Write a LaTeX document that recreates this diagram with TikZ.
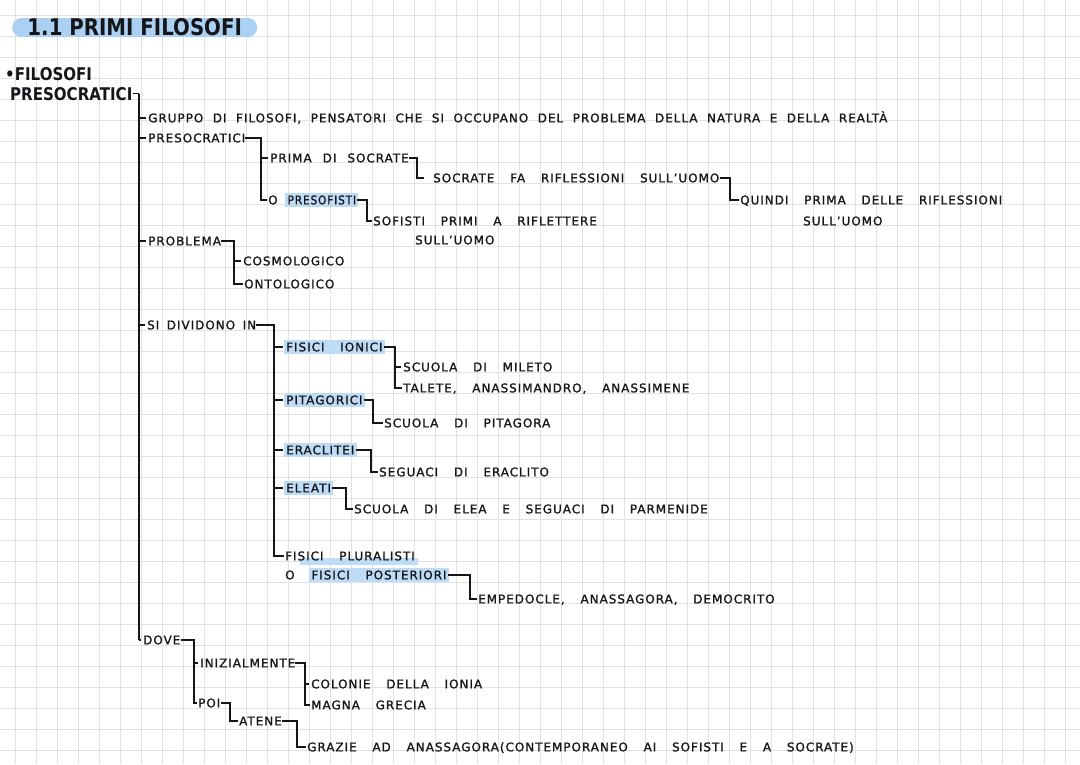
\documentclass[tikz,border=0pt]{standalone}
\usepackage{fontspec}
\usepackage{xcolor}
\usepackage{graphicx}
\usetikzlibrary{calc}

\newfontfamily\handfont[LetterSpace=8,WordSpace=3.3,FakeBold=1.2]{DejaVu Sans}
\newfontfamily\headfont[FakeStretch=0.86]{DejaVu Sans}
\definecolor{ink}{RGB}{22,22,26}
\definecolor{paper}{RGB}{226,226,226}
\definecolor{marker}{RGB}{190,220,245}
\definecolor{pill}{RGB}{170,208,242}
\newcommand{\marked}[1]{{\fboxsep=2.2pt\kern-1.2pt\colorbox{marker}{#1}\kern-1.2pt}}

\begin{document}
\begin{tikzpicture}[x=1pt,y=-1pt,
      txt/.style={anchor=west, inner sep=0pt, text height=8.7pt, text depth=0pt,
        text=ink, font=\handfont\fontsize{12pt}{14pt}\selectfont},
      head/.style={anchor=west, inner sep=0pt, text height=13pt, text depth=0pt,
        text=ink, font=\headfont\bfseries\fontsize{17.5pt}{20pt}\selectfont},
      title/.style={anchor=west, fill=pill, rounded corners=9.5pt,
        minimum height=19pt, minimum width=245pt, inner sep=0pt,
        text height=16.5pt, text depth=0pt, text=ink,
        font=\headfont\bfseries\fontsize{23pt}{26pt}\selectfont},
      trunk/.style={draw=ink, line width=2.8pt},
      bracket/.style={draw=ink, line width=1.6pt, shorten >=1.5pt},
      twig/.style={draw=ink, line width=1.2pt, shorten >=2pt},
      grid/.style={draw=paper, line width=0.9pt}]

    \useasboundingbox (0,0) rectangle (1080,764);
    \fill[white] (0,0) rectangle (1080,764);
    \foreach \gx in {0,...,50}
      \draw[grid] (15.7+21*\gx,0) -- (15.7+21*\gx,764);
    \foreach \gy in {0,...,35}
      \draw[grid] (0,15+21*\gy) -- (1080,15+21*\gy);

    % heading
    \node[title] (title) at (12,27.5) {1.1 PRIMI FILOSOFI};
    \node[head] (n0) at (5,73.5) {•FILOSOFI};
    \node[head] (n1) at (10,93.5) {PRESOCRATICI};

    % first level
    \node[txt] (a) at (148,118) {\spaceskip=9.5pt GRUPPO DI FILOSOFI, PENSATORI CHE SI OCCUPANO DEL PROBLEMA DELLA NATURA E DELLA REALTÀ};
    \node[txt] (b) at (148,138) {PRESOCRATICI};
    \node[txt] (c) at (148,241) {PROBLEMA};
    \node[txt] (d) at (147,325) {\spaceskip=7.5pt SI DIVIDONO IN};
    \node[txt] (e) at (143,640) {DOVE};

    % presocratici
    \node[txt] (b1) at (270,158) {\spaceskip=11pt PRIMA DI SOCRATE};
    \node[txt] (b11) at (433,178) {SOCRATE FA RIFLESSIONI SULL’UOMO};
    \node[txt] (b111) at (740,200) {QUINDI PRIMA DELLE RIFLESSIONI};
    \node[txt] (b111x) at (803,221) {SULL’UOMO};
    \node[txt] (b2) at (268,200) {\spaceskip=9pt O \marked{\scalebox{0.88}[1]{PRESOFISTI}}};
    \node[txt] (b21) at (373,221) {SOFISTI PRIMI A RIFLETTERE};
    \node[txt] (b21x) at (415,240) {SULL’UOMO};

    % problema
    \node[txt] (c1) at (243,261) {COSMOLOGICO};
    \node[txt] (c2) at (244,284) {ONTOLOGICO};

    % si dividono in
    \fill[marker] (300,558) rectangle (418,565);
    \node[txt] (d1) at (285,347) {\marked{FISICI IONICI}};
    \node[txt] (d11) at (403,367) {SCUOLA DI MILETO};
    \node[txt] (d12) at (403,388) {TALETE, ANASSIMANDRO, ANASSIMENE};
    \node[txt] (d2) at (285,400) {\marked{PITAGORICI}};
    \node[txt] (d21) at (384,423) {SCUOLA DI PITAGORA};
    \node[txt] (d3) at (285,450) {\marked{ERACLITEI}};
    \node[txt] (d31) at (379,472) {SEGUACI DI ERACLITO};
    \node[txt] (d4) at (285,488) {\marked{ELEATI}};
    \node[txt] (d41) at (354,509) {SCUOLA DI ELEA E SEGUACI DI PARMENIDE};
    \node[txt] (d5) at (285,556) {FISICI PLURALISTI};
    \node[txt] (d5x) at (285,575) {O \marked{FISICI POSTERIORI}};
    \node[txt] (d51) at (478,599) {EMPEDOCLE, ANASSAGORA, DEMOCRITO};

    % dove
    \node[txt] (e1) at (200,663) {INIZIALMENTE};
    \node[txt] (e11) at (311,684) {COLONIE DELLA IONIA};
    \node[txt] (e12) at (311,705) {MAGNA GRECIA};
    \node[txt] (e2) at (198,703) {POI};
    \node[txt] (e21) at (239,721) {ATENE};
    \node[txt] (e211) at (307,747) {GRAZIE AD ANASSAGORA(CONTEMPORANEO AI SOFISTI E A SOCRATE)};

    % spines
    \coordinate (s0) at ([xshift=-9pt]a.west);
    \coordinate (sb) at ([xshift=-9pt]b1.west);
    \coordinate (sb1) at ([xshift=-16pt]b11.west);
    \coordinate (sb11) at ([xshift=-10pt]b111.west);
    \coordinate (sb2) at ([xshift=-6pt]b21.west);
    \coordinate (sc) at ([xshift=-9pt]c1.west);
    \coordinate (sd) at ([xshift=-11pt]d1.west);
    \coordinate (sd1) at ([xshift=-8pt]d11.west);
    \coordinate (sd2) at ([xshift=-11pt]d21.west);
    \coordinate (sd3) at ([xshift=-8pt]d31.west);
    \coordinate (sd4) at ([xshift=-8pt]d41.west);
    \coordinate (sd5) at ([xshift=-8pt]d51.west);
    \coordinate (se) at ([xshift=-6pt]e1.west);
    \coordinate (se1) at ([xshift=-6pt]e11.west);
    \coordinate (se2) at ([xshift=-9pt]e21.west);
    \coordinate (se21) at ([xshift=-10pt]e211.west);

    % main tree
    \draw[twig,shorten >=0pt] (n1.east) -- (s0 |- n1.east);
    \draw[trunk] (s0 |- n1.east) -- (s0 |- e.west);
    \draw[twig] (s0 |- a.west) -- (a.west);
    \draw[twig] (s0 |- b.west) -- (b.west);
    \draw[twig] (s0 |- c.west) -- (c.west);
    \draw[twig] (s0 |- d.west) -- (d.west);
    \draw[twig] (s0 |- e.west) -- (e.west);

    % branches
    \draw[bracket] (b.east) -- (sb |- b.east) -- (sb |- b2.west) -- (b2.west);
    \draw[twig] (sb |- b1.west) -- (b1.west);
    \draw[bracket,shorten >=9pt] (b1.east) -- (sb1 |- b1.east) -- (sb1 |- b11.west) -- (b11.west);
    \draw[bracket] (b11.east) -- (sb11 |- b11.east) -- (sb11 |- b111.west) -- (b111.west);
    \draw[bracket] (b2.east) -- (sb2 |- b2.east) -- (sb2 |- b21.west) -- (b21.west);

    \draw[bracket] (c.east) -- (sc |- c.east) -- (sc |- c2.west) -- (c2.west);
    \draw[twig] (sc |- c1.west) -- (c1.west);

    \draw[bracket] (d.east) -- (sd |- d.east) -- (sd |- d5.west) -- (d5.west);
    \draw[twig] (sd |- d1.west) -- (d1.west);
    \draw[twig] (sd |- d2.west) -- (d2.west);
    \draw[twig] (sd |- d3.west) -- (d3.west);
    \draw[twig] (sd |- d4.west) -- (d4.west);
    \draw[bracket] (d1.east) -- (sd1 |- d1.east) -- (sd1 |- d12.west) -- (d12.west);
    \draw[twig] (sd1 |- d11.west) -- (d11.west);
    \draw[bracket] (d2.east) -- (sd2 |- d2.east) -- (sd2 |- d21.west) -- (d21.west);
    \draw[bracket] (d3.east) -- (sd3 |- d3.east) -- (sd3 |- d31.west) -- (d31.west);
    \draw[bracket] (d4.east) -- (sd4 |- d4.east) -- (sd4 |- d41.west) -- (d41.west);
    \draw[bracket] (d5x.east) -- (sd5 |- d5x.east) -- (sd5 |- d51.west) -- (d51.west);

    \draw[bracket] (e.east) -- (se |- e.east) -- (se |- e2.west) -- (e2.west);
    \draw[twig] (se |- e1.west) -- (e1.west);
    \draw[bracket] (e1.east) -- (se1 |- e1.east) -- (se1 |- e12.west) -- (e12.west);
    \draw[twig] (se1 |- e11.west) -- (e11.west);
    \draw[bracket] (e2.east) -- (se2 |- e2.east) -- (se2 |- e21.west) -- (e21.west);
    \draw[bracket] (e21.east) -- (se21 |- e21.east) -- (se21 |- e211.west) -- (e211.west);
  \end{tikzpicture}
\end{document}
